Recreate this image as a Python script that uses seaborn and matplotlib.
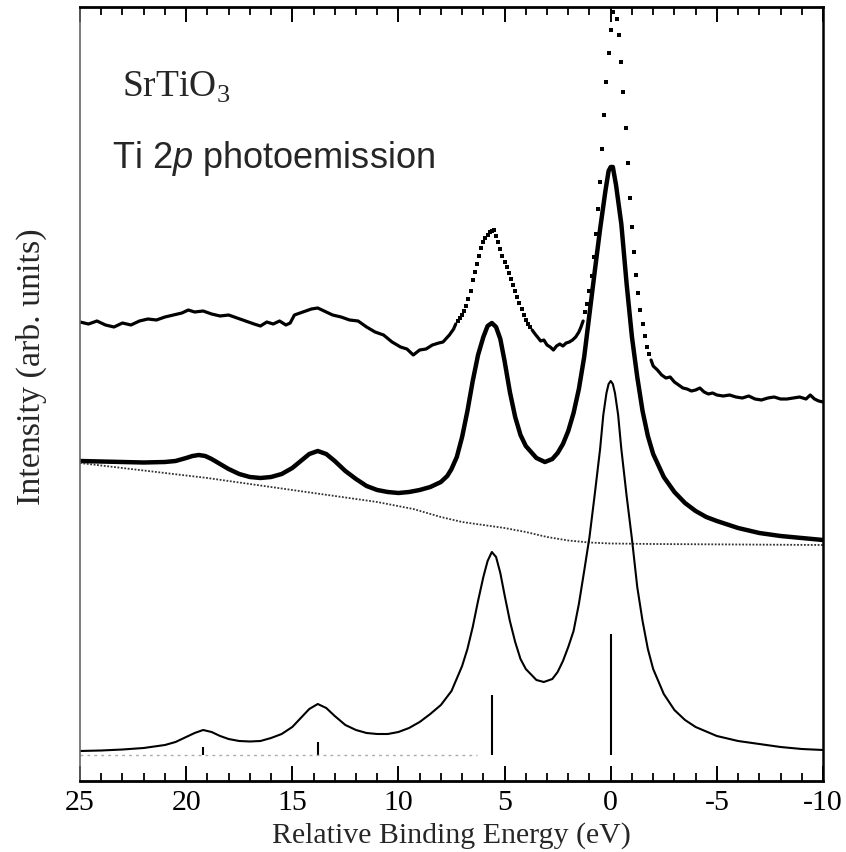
import numpy as np
import pandas as pd
import matplotlib
matplotlib.use("Agg")
import matplotlib.pyplot as plt
import seaborn as sns

# ---------------- data (intensity in arbitrary units) ----------------
# experimental spectrum: noisy continuous parts
exp_seg1_energy = [25.0, 24.6, 24.2, 23.8, 23.4, 23.0, 22.6, 22.2, 21.8, 21.4, 21.0, 20.6, 20.2,
                   19.9, 19.6, 19.2, 18.8, 18.4, 18.0, 17.6, 17.2, 16.8, 16.5, 16.2, 15.9, 15.6,
                   15.3, 15.1, 14.9, 14.5, 14.1, 13.8, 13.5, 13.1, 12.7, 12.3, 11.9, 11.5, 11.1,
                   10.7, 10.3, 9.9, 9.6, 9.3, 9.0, 8.7, 8.4, 8.1, 7.9, 7.6, 7.4, 7.3]
exp_seg1_int = [459, 457, 460, 456, 454, 458, 456, 460, 462, 461, 464, 466, 468,
                471, 469, 470, 467, 465, 466, 463, 460, 457, 455, 459, 457, 460,
                456, 458, 466, 469, 472, 473, 470, 466, 464, 461, 460, 454, 449,
                446, 439, 434, 432, 426, 431, 432, 436, 438, 439, 446, 452, 457]
exp_seg2_energy = [3.7, 3.6, 3.45, 3.3, 3.15, 3.0, 2.85, 2.7, 2.55, 2.4, 2.25, 2.1, 1.95, 1.8,
                   1.65, 1.5, 1.4, 1.3]
exp_seg2_int = [451, 448, 444, 440, 441, 436, 434, 431, 435, 437, 435, 438, 439, 441,
                444, 449, 454, 460]
exp_seg3_energy = [-1.9, -2.0, -2.2, -2.4, -2.6, -2.8, -3.0, -3.2, -3.4, -3.6, -3.8, -4.0, -4.2,
                   -4.4, -4.6, -4.8, -5.0, -5.3, -5.6, -5.9, -6.2, -6.5, -6.8, -7.1, -7.4,
                   -7.7, -8.0, -8.3, -8.6, -8.9, -9.2, -9.4, -9.6, -9.8, -10.0]
exp_seg3_int = [421, 415, 411, 406, 403, 404, 399, 396, 393, 392, 390, 391, 393,
                389, 387, 388, 386, 385, 386, 384, 383, 385, 382, 381, 383,
                384, 382, 382, 383, 384, 382, 386, 382, 380, 379]
# experimental spectrum: sparse points on steep flanks
exp_dot_energy = [7.2, 7.1, 7.0, 6.9, 6.8, 6.7, 6.6, 6.5, 6.4, 6.3, 6.2, 6.1, 6.0, 5.9, 5.8,
                  5.7, 5.6, 5.5, 5.4, 5.3, 5.2, 5.1, 5.0, 4.9, 4.8, 4.7, 4.6, 4.5, 4.4, 4.3,
                  4.2, 4.1, 4.0, 3.9, 3.8,
                  1.2, 1.1, 1.0, 0.9, 0.8, 0.7, 0.6, 0.5, 0.4, 0.3, 0.2, 0.1, 0.0, -0.1,
                  -0.2, -0.3, -0.4, -0.5, -0.6, -0.7, -0.8, -0.9, -1.0, -1.1, -1.2, -1.3,
                  -1.4, -1.5, -1.6, -1.7, -1.8]
exp_dot_int = [460, 463, 466, 470, 475, 482, 490, 501, 509, 517, 525, 533, 539, 543, 546,
               549, 550, 551, 545, 539, 532, 525, 519, 514, 508, 502, 496, 490, 484, 478,
               472, 466, 461, 457, 454,
               469, 477, 490, 505, 524, 547, 572, 599, 632, 666, 699, 728, 751, 769,
               790, 762, 746, 719, 689, 653, 618, 583, 554, 529, 506, 488,
               471, 457, 445, 434, 427]

# fitted spectrum (thick line)
fit_energy = [25, 24, 23, 22, 21, 20.5, 20, 19.7, 19.4, 19.1, 18.8, 18.4, 18, 17.5, 17, 16.5,
              16, 15.5, 15, 14.6, 14.2, 13.8, 13.4, 13, 12.5, 12, 11.5, 11, 10.5, 10, 9.5, 9,
              8.5, 8, 7.7, 7.5, 7.25, 7.0, 6.75, 6.5, 6.25, 6.0, 5.8, 5.6, 5.4, 5.2, 5.0,
              4.75, 4.5, 4.25, 4.0, 3.5, 3.1, 2.75, 2.5, 2.25, 2.0, 1.75, 1.5, 1.25, 1.0,
              0.75, 0.5, 0.25, 0.1, 0.0, -0.1, -0.25, -0.5, -0.75, -1.0, -1.25, -1.5, -1.75,
              -2.0, -2.5, -3.0, -3.5, -4.0, -4.5, -5.0, -6.0, -7.0, -8.0, -9.0, -10.0]
fit_int = [320, 319.5, 319, 318.5, 319, 320, 323, 325, 326, 325, 322, 317, 312, 307, 304, 303,
           304, 307, 313, 320, 327, 330, 327, 320, 310, 302, 295, 291, 289, 288, 289, 291,
           294, 299, 305, 312, 324, 344, 370, 400, 426, 444, 455, 458, 454, 442, 420,
           389, 364, 346, 335, 323, 319, 322, 328, 337, 350, 368, 392, 424, 467,
           510, 552, 590, 610, 614, 614, 596, 557, 497, 444, 404, 370, 345,
           327, 304, 289, 278, 270, 264, 260, 253, 248, 245, 243, 241]

# background (dotted)
bg_energy = [25, 23, 21, 19, 17, 15, 13, 11, 9.3, 8, 7, 6, 5, 4, 3, 2, 1, 0, -2, -6, -10]
bg_int = [318, 313, 308, 303, 297, 291, 285, 279, 272, 264, 259, 256, 253, 249, 244, 240.5,
          238.5, 237.5, 237, 236.5, 236]

# calculated spectrum (thin line)
calc_energy = [25, 24, 23, 22, 21, 20.5, 20, 19.6, 19.2, 18.8, 18.4, 18, 17.5, 17, 16.5, 16,
               15.5, 15, 14.6, 14.2, 13.8, 13.4, 13, 12.5, 12, 11.5, 11, 10.5, 10, 9.5, 9,
               8.5, 8, 7.5, 7.0, 6.75, 6.5, 6.25, 6.0, 5.8, 5.6, 5.4, 5.2, 5.0, 4.75, 4.5,
               4.25, 4.0, 3.5, 3.15, 2.75, 2.5, 2.25, 2.0, 1.75, 1.5, 1.25, 1.0, 0.75, 0.5,
               0.35, 0.2, 0.1, 0.0, -0.1, -0.2, -0.35, -0.5, -0.75, -1.0, -1.25, -1.5, -1.75,
               -2.0, -2.5, -3.0, -3.5, -4.0, -5.0, -6.0, -7.0, -8.0, -9.0, -10.0]
calc_int = [30, 30.5, 31.5, 33, 36, 39, 44, 48, 51, 49, 45, 42, 40, 39.5, 40, 43,
            47, 54, 63, 72, 77, 73, 65, 56, 51, 48, 47, 47, 49, 53, 59,
            67, 76, 90, 115, 132, 154, 180, 204, 220, 229, 224, 208, 186, 160, 139,
            122, 112, 101, 99, 102, 109, 120, 134, 150, 177, 210, 244, 287, 332,
            366, 388, 397, 400, 397, 388, 366, 332, 285, 242, 194, 160, 132,
            112, 87, 71, 61, 54, 45, 40, 37, 34, 32, 31]

# stick spectrum
stick_energy = [19.2, 13.8, 5.6, 0.0]
stick_top = [34, 39, 86, 147]
stick_base = 26
stick_base_energy = [25, 6.3]

# axis
x_ticks = [25, 20, 15, 10, 5, 0, -5, -10]
x_tick_labels = ["25", "20", "15", "10", "5", "0", "-5", "-10"]

# ---------------- plotting ----------------
sns.set_theme(style="white")
plt.rcParams["font.family"] = ["Liberation Serif", "DejaVu Serif"]
plt.rcParams["mathtext.fontset"] = "custom"
plt.rcParams["mathtext.rm"] = "Liberation Serif"
plt.rcParams["mathtext.it"] = "Liberation Sans:italic"

fig = plt.figure(figsize=(8.46, 8.53), dpi=100)
ax = fig.add_axes([80 / 846, 71 / 853, 743 / 846, 774 / 853])

segs = pd.DataFrame({
    "energy": exp_seg1_energy + exp_seg2_energy + exp_seg3_energy,
    "intensity": exp_seg1_int + exp_seg2_int + exp_seg3_int,
    "seg": [1] * len(exp_seg1_energy) + [2] * len(exp_seg2_energy) + [3] * len(exp_seg3_energy),
})
sns.lineplot(data=segs, x="energy", y="intensity", units="seg", estimator=None, sort=False,
             color="black", lw=2.3, ax=ax)
sns.scatterplot(x=exp_dot_energy, y=exp_dot_int, marker="s", s=10, color="black",
                linewidth=0, ax=ax)

sns.lineplot(x=fit_energy, y=fit_int, sort=False, estimator=None, color="black", lw=3.2, ax=ax)
sns.lineplot(x=bg_energy, y=bg_int, sort=False, estimator=None, color="#333333", lw=1.3,
             ls=(0, (1.0, 0.9)), ax=ax)
sns.lineplot(x=calc_energy, y=calc_int, sort=False, estimator=None, color="black", lw=1.5, ax=ax)

ax.vlines(stick_energy, stick_base, stick_top, color="black", lw=1.5)
ax.plot(stick_base_energy, [stick_base, stick_base], color="#aaaaaa", lw=1.0, ls=(0, (2, 3)))

ax.set_xlim(25, -10)
ax.set_ylim(0, 774)
ax.set_xticks(x_ticks)
ax.set_xticklabels(x_tick_labels)
ax.set_xticks(np.arange(-10, 26, 1), minor=True)
ax.set_yticks([])
ax.tick_params(axis="x", which="both", direction="in", top=True, bottom=True,
               labelsize=21.5, pad=6, colors="black")
ax.tick_params(axis="x", which="major", length=10.5, width=1.4)
ax.tick_params(axis="x", which="minor", length=5.5, width=1.3)

for side in ["top", "bottom"]:
    ax.spines[side].set_color("black")
    ax.spines[side].set_linewidth(2.0)
ax.spines["right"].set_color("black")
ax.spines["right"].set_linewidth(1.8)
ax.spines["left"].set_color("#666666")
ax.spines["left"].set_linewidth(1.2)

ax.set_xlabel("Relative Binding Energy (eV)", fontsize=21.5, labelpad=4)
ax.set_ylabel("Intensity (arb. units)", fontsize=24.5)
ax.yaxis.set_label_coords(-0.045, 0.536)

ax.text(0.0565, 0.885, r"SrTiO$_3$", transform=ax.transAxes, fontsize=27,
        family="Liberation Serif", ha="left", va="baseline")
ax.text(0.043, 0.793, r"Ti 2$p$ photoemission", transform=ax.transAxes, fontsize=26,
        family="Liberation Sans", ha="left", va="baseline")

fig.savefig("out.png", dpi=100)
